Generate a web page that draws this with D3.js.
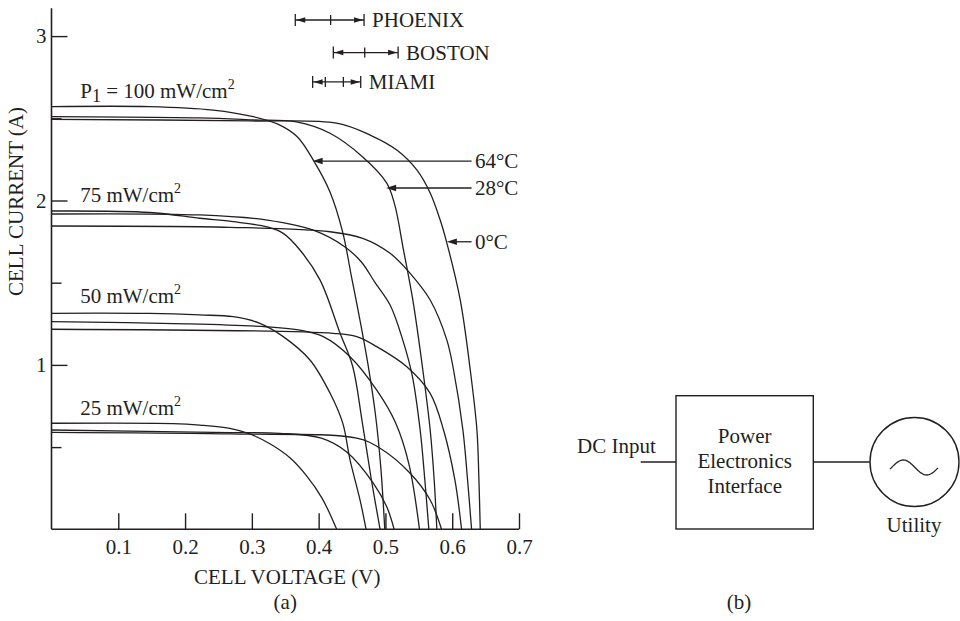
<!DOCTYPE html>
<html><head><meta charset="utf-8">
<script src="https://cdn.jsdelivr.net/npm/d3@7"></script>
<style>
html,body{margin:0;padding:0;background:#fff;}
svg{display:block;}
svg text{font-family:"Liberation Serif","Times New Roman",serif !important;font-size:21px;fill:#231f20;}
</style></head><body>
<svg id="chart" width="960" height="621"></svg>
<script>
// ---------- data (V in volts, I in amperes) ----------
const xTicks = [0.1, 0.2, 0.3, 0.4, 0.5, 0.6, 0.7];
const yMajorTicks = [1, 2, 3];
const yMinorTicks = [0.5, 1.5, 2.5];
const yAxisTop = 3.17;

const irradianceLabels = ["100", "75", "50", "25"];
const irradianceLabelLevels = [2.622, 1.993, 1.375, 0.695];

// I-V curves: [voltage, current]
const iv64_100 = [[0,2.571],[0.147,2.571],[0.242,2.550],[0.302,2.510],[0.342,2.459],[0.368,2.388],[0.392,2.246],[0.417,2.052],[0.436,1.808],[0.449,1.540],[0.462,1.270],[0.474,1.000],[0.485,0.700],[0.493,0.380],[0.499,0]];
const iv28_100 = [[0,2.510],[0.222,2.502],[0.302,2.490],[0.367,2.478],[0.417,2.409],[0.466,2.265],[0.502,2.106],[0.514,1.973],[0.527,1.700],[0.541,1.395],[0.556,0.969],[0.567,0.604],[0.573,0.300],[0.577,0]];
const iv0_100  = [[0,2.494],[0.297,2.484],[0.427,2.470],[0.477,2.398],[0.517,2.307],[0.547,2.186],[0.567,2.046],[0.582,1.881],[0.592,1.741],[0.612,1.395],[0.627,0.969],[0.637,0.604],[0.640,0.300],[0.642,0]];

const iv64_75 = [[0,1.936],[0.147,1.927],[0.222,1.892],[0.272,1.871],[0.323,1.839],[0.347,1.800],[0.372,1.699],[0.402,1.517],[0.432,1.194],[0.451,0.990],[0.465,0.660],[0.479,0.300],[0.492,0]];
const iv28_75 = [[0,1.918],[0.222,1.912],[0.323,1.881],[0.391,1.821],[0.439,1.719],[0.464,1.626],[0.484,1.504],[0.507,1.364],[0.526,1.151],[0.540,0.938],[0.552,0.604],[0.559,0.300],[0.565,0]];
const iv0_75  = [[0,1.845],[0.267,1.837],[0.417,1.810],[0.466,1.770],[0.507,1.679],[0.537,1.557],[0.567,1.395],[0.592,1.151],[0.602,0.969],[0.616,0.604],[0.623,0.300],[0.629,0]];

const iv64_50 = [[0,1.314],[0.147,1.313],[0.222,1.304],[0.272,1.293],[0.312,1.253],[0.347,1.172],[0.387,1.030],[0.417,0.829],[0.436,0.647],[0.447,0.422],[0.462,0.178],[0.471,0]];
const iv28_50 = [[0,1.263],[0.200,1.250],[0.322,1.232],[0.372,1.212],[0.407,1.172],[0.447,1.050],[0.487,0.847],[0.515,0.650],[0.535,0.400],[0.551,0]];
const iv0_50  = [[0,1.217],[0.422,1.192],[0.457,1.172],[0.487,1.111],[0.532,0.989],[0.567,0.827],[0.587,0.604],[0.604,0.300],[0.614,0]];

const iv64_25 = [[0,0.645],[0.182,0.643],[0.222,0.634],[0.267,0.614],[0.297,0.580],[0.327,0.520],[0.357,0.435],[0.382,0.325],[0.405,0.190],[0.427,0]];
const iv28_25 = [[0,0.604],[0.267,0.588],[0.342,0.584],[0.404,0.554],[0.442,0.470],[0.482,0.280],[0.502,0.137],[0.513,0]];
const iv0_25  = [[0,0.590],[0.267,0.580],[0.457,0.554],[0.492,0.493],[0.537,0.341],[0.567,0.178],[0.584,0]];

const allCurves = [iv64_100, iv28_100, iv0_100, iv64_75, iv28_75, iv0_75,
                   iv64_50, iv28_50, iv0_50, iv64_25, iv28_25, iv0_25];

// temperature call-outs: label, arrow tip [V, I]
const tempLabels = ["64\u00B0C", "28\u00B0C", "0\u00B0C"];
const tempArrowTips = [[0.391, 2.240], [0.501, 2.076], [0.592, 1.749]];
const tempArrowTailV = 0.629;
const tempLabelV = 0.634;

// city operating ranges (V) and their vertical level (I)
const cityNames = ["PHOENIX", "BOSTON", "MIAMI"];
const cityRanges = [[0.365, 0.418, 0.468], [0.422, 0.469, 0.519], [0.391, 0.410, 0.437, 0.463]];
const cityLevels = [3.098, 2.900, 2.721];

// ---------- drawing ----------
const ink = "#231f20";
const serif = '"Liberation Serif","Times New Roman",serif';
const svg = d3.select("#chart");
const x = d3.scaleLinear().domain([0, 0.7]).range([51.5, 519]);
const y = d3.scaleLinear().domain([0, 3]).range([529.3, 36.1]);

// axes
const xAxis = d3.axisBottom(x).tickValues(xTicks).tickSizeInner(-16).tickSizeOuter(0)
  .tickPadding(10).tickFormat(d3.format(".1f"));
const gx = svg.append("g").attr("transform", `translate(0,${y(0)})`).call(xAxis);
gx.select(".domain").remove();
gx.attr("font-family", serif).attr("font-size", 21);
gx.selectAll("line").attr("stroke", ink).attr("stroke-width", 1.4);
gx.selectAll("text").attr("fill", ink);

const yAxis = d3.axisLeft(y).tickValues(yMajorTicks).tickSizeInner(-16).tickSizeOuter(0)
  .tickPadding(5).tickFormat(d3.format("d"));
const gy = svg.append("g").attr("transform", `translate(${x(0)},0)`).call(yAxis);
gy.select(".domain").remove();
gy.attr("font-family", serif).attr("font-size", 21);
gy.selectAll("line").attr("stroke", ink).attr("stroke-width", 1.4);
gy.selectAll("text").attr("fill", ink);

const yMinor = d3.axisLeft(y).tickValues(yMinorTicks).tickSizeInner(-10).tickSizeOuter(0).tickFormat("");
const gym = svg.append("g").attr("transform", `translate(${x(0)},0)`).call(yMinor);
gym.select(".domain").remove();
gym.selectAll("line").attr("stroke", ink).attr("stroke-width", 1.4);

svg.append("line").attr("x1", x(0)).attr("x2", x(0.7)).attr("y1", y(0)).attr("y2", y(0))
  .attr("stroke", ink).attr("stroke-width", 1.6);
svg.append("line").attr("x1", x(0)).attr("x2", x(0)).attr("y1", y(0)).attr("y2", y(yAxisTop))
  .attr("stroke", ink).attr("stroke-width", 1.6);

// text group with explicit serif font
const T = svg.append("g").attr("font-family", serif).attr("font-size", 21).attr("fill", ink);

// axis titles
T.append("text").attr("x", (x(0) + x(0.7)) / 2 + 2).attr("y", 584)
  .attr("text-anchor", "middle").text("CELL VOLTAGE (V)");
T.append("text").attr("transform", `translate(23,${y(2) + 1}) rotate(-90)`)
  .attr("text-anchor", "middle").text("CELL CURRENT (A)");
T.append("text").attr("x", (x(0) + x(0.7)) / 2).attr("y", 609)
  .attr("text-anchor", "middle").text("(a)");

// curves
const line = d3.line().x(d => x(d[0])).y(d => y(d[1])).curve(d3.curveCatmullRom.alpha(0.5));
svg.append("g").selectAll("path").data(allCurves).join("path")
  .attr("d", line).attr("fill", "none").attr("stroke", ink).attr("stroke-width", 1.3);

// irradiance labels
irradianceLabels.forEach((lab, i) => {
  const t = T.append("text").attr("x", x(0.043)).attr("y", y(irradianceLabelLevels[i]));
  if (i === 0) {
    t.append("tspan").text("P");
    t.append("tspan").attr("font-size", 18).attr("dy", 4).text("1");
    t.append("tspan").attr("dy", -4).text(" = " + lab + " mW/cm");
  } else {
    t.append("tspan").text(lab + " mW/cm");
  }
  t.append("tspan").attr("font-size", 14).attr("dy", -9).text("2");
});

// temperature arrows
function arrowHead(g, tx, ty, dir, len, half) {
  g.append("path")
    .attr("d", `M${tx},${ty}L${tx + dir * len},${ty - half}L${tx + dir * len},${ty + half}Z`)
    .attr("fill", ink);
}
tempLabels.forEach((lab, i) => {
  const tx = x(tempArrowTips[i][0]), ty = y(tempArrowTips[i][1]);
  svg.append("line").attr("x1", tx + 4).attr("x2", x(tempArrowTailV)).attr("y1", ty).attr("y2", ty)
    .attr("stroke", ink).attr("stroke-width", 1.3);
  arrowHead(svg, tx, ty, 1, 10, 3.2);
  T.append("text").attr("x", x(tempLabelV)).attr("y", ty + 7).text(lab);
});

// city ranges
cityNames.forEach((name, i) => {
  const r = cityRanges[i];
  const yy = y(cityLevels[i]);
  const x0 = x(r[0]), x1 = x(r[r.length - 1]);
  svg.append("line").attr("x1", x0).attr("x2", x1).attr("y1", yy).attr("y2", yy)
    .attr("stroke", ink).attr("stroke-width", 1.3);
  r.forEach((v, k) => {
    const h = (k === 0 || k === r.length - 1) ? 6 : 5;
    svg.append("line").attr("x1", x(v)).attr("x2", x(v)).attr("y1", yy - h).attr("y2", yy + h)
      .attr("stroke", ink).attr("stroke-width", 1.3);
  });
  arrowHead(svg, x0 + 1, yy, 1, 9, 2.8);
  arrowHead(svg, x1 - 1, yy, -1, 9, 2.8);
  T.append("text").attr("x", x1 + 8).attr("y", yy + 7).text(name);
});

// ---------- (b) block diagram ----------
const b = svg.append("g").attr("fill", "none").attr("stroke", ink).attr("stroke-width", 1.4);
b.append("rect").attr("x", 676).attr("y", 395.7).attr("width", 137.3).attr("height", 133.3);
b.append("line").attr("x1", 640.7).attr("x2", 676).attr("y1", 462).attr("y2", 462);
b.append("line").attr("x1", 813.3).attr("x2", 870).attr("y1", 462).attr("y2", 462);
b.append("circle").attr("cx", 914.5).attr("cy", 462).attr("r", 44.5);
const waveX = d3.range(0, 49, 1);
b.append("path").attr("stroke-width", 1.3).attr("d", d3.line()
  .x(d => 890 + d)
  .y(d => 467.5 - 7.5 * Math.sin(Math.PI / 2 + 2 * Math.PI * (d - 13.3) / 46.8))(waveX));

T.append("text").attr("x", 577).attr("y", 453).text("DC Input");
[["Power", 443.3], ["Electronics", 468.3], ["Interface", 493.3]].forEach(([s, yy]) =>
  T.append("text").attr("x", 744.7).attr("y", yy).attr("text-anchor", "middle").text(s));
T.append("text").attr("x", 914).attr("y", 531.7).attr("text-anchor", "middle").text("Utility");
T.append("text").attr("x", 739).attr("y", 609).attr("text-anchor", "middle").text("(b)");
</script>
</body></html>
